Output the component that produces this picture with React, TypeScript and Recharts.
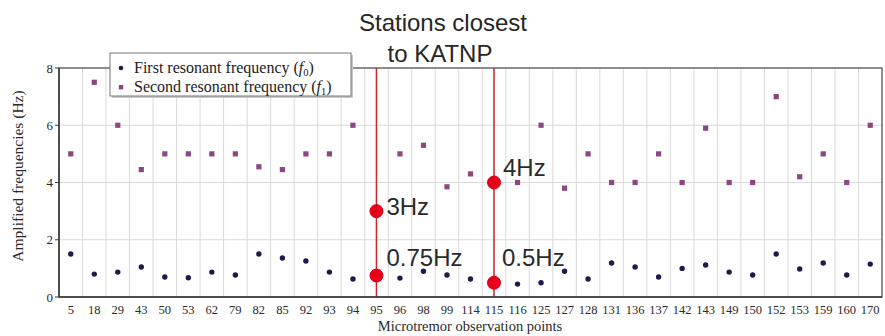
import { ComposedChart, Scatter, XAxis, YAxis, CartesianGrid, ReferenceLine, ReferenceDot, ReferenceArea } from 'recharts';

const stations = [
  '5', '18', '29', '43', '50', '53', '62', '79', '82', '85', '92', '93', '94', '95', '96', '98', '99', '114',
  '115', '116', '125', '127', '128', '131', '136', '137', '142', '143', '149', '150', '152', '153', '159', '160', '170',
];

// first resonant frequency f0 (Hz)
const firstResonant = [
  1.5, 0.8, 0.87, 1.05, 0.7, 0.67, 0.87, 0.77, 1.5, 1.36, 1.26, 0.87, 0.63, 0.75, 0.66, 0.9, 0.77, 0.63,
  0.5, 0.45, 0.5, 0.9, 0.63, 1.19, 1.05, 0.7, 1.0, 1.12, 0.87, 0.77, 1.5, 0.98, 1.19, 0.77, 1.15,
];

// second resonant frequency f1 (Hz)
const secondResonant = [
  5.0, 7.5, 6.0, 4.45, 5.0, 5.0, 5.0, 5.0, 4.55, 4.45, 5.0, 5.0, 6.0, 3.0, 5.0, 5.3, 3.85, 4.3,
  4.0, 4.0, 6.0, 3.8, 5.0, 4.0, 4.0, 5.0, 4.0, 5.9, 4.0, 4.0, 7.0, 4.2, 5.0, 4.0, 6.0,
];

const yTicks = [0, 2, 4, 6, 8];

// stations closest to KATNP and the values called out on them
const closestStations = ['95', '115'];
const markedStations = ['95', '95', '115', '115'];
const markedValues = [3, 0.75, 4, 0.5];
const markedLabels = ['3Hz', '0.75Hz', '4Hz', '0.5Hz'];

// label placement relative to each red dot
const labelOffsets = [
  [10, 4],
  [10, -10],
  [9, -7],
  [8, -17],
];

// each station sits in the middle of its own slot on a numeric axis
const slot = (station: string) => stations.indexOf(station) + 0.5;

const data = stations.map((station, i) => ({
  x: i + 0.5,
  f0: firstResonant[i],
  f1: secondResonant[i],
}));

const xTicks = stations.map((_, i) => i + 0.5);

const serif = '"Liberation Serif", "Times New Roman", serif';
const sans = '"Liberation Sans", Arial, sans-serif';

const FirstDot = (props: any) => {
  const { cx, cy } = props;
  if (cx == null || cy == null) return null;
  return <circle cx={cx} cy={cy} r={2.7} fill="#1c1c4a" />;
};

const SecondDot = (props: any) => {
  const { cx, cy } = props;
  if (cx == null || cy == null) return null;
  return <rect x={cx - 2.6} y={cy - 2.6} width={5.2} height={5.2} fill="#8c4682" />;
};

const annotation = (text: string, dx: number, dy: number) => (props: any) => {
  const vb = props.viewBox || {};
  const cx = vb.x + vb.width / 2;
  const cy = vb.y + vb.height / 2;
  return (
    <text x={cx + dx} y={cy + dy} fontFamily={sans} fontSize={24} fill="#2a2a2a">
      {text}
    </text>
  );
};

// vertical grid lines fall on the borders between station slots
const slotBorders = ({ offset }: any) =>
  Array.from({ length: stations.length + 1 }, (_, i) => offset.left + (i * offset.width) / stations.length);

export default function App() {
  return (
    <div style={{ position: 'absolute', left: 0, top: 0, width: 885, height: 336, background: '#fff' }}>
      <ComposedChart width={885} height={336} data={data} margin={{ top: 68, right: 3, bottom: 0, left: 0 }}>
        <CartesianGrid stroke="#dadada" verticalCoordinatesGenerator={slotBorders} />
        <XAxis
          dataKey="x"
          type="number"
          domain={[0, stations.length]}
          ticks={xTicks}
          interval={0}
          tickFormatter={(v: number) => stations[Math.floor(v)]}
          height={39}
          tickLine={false}
          tickMargin={2}
          axisLine={{ stroke: '#3a3a3a', strokeWidth: 1.5 }}
          tick={{ fontFamily: serif, fontSize: 12.5, fill: '#2a2a2a' }}
        />
        <YAxis
          width={59}
          domain={[0, 8]}
          ticks={yTicks}
          tickSize={4}
          tickMargin={2}
          axisLine={{ stroke: '#3a3a3a', strokeWidth: 1.5 }}
          tickLine={{ stroke: '#3a3a3a' }}
          tick={{ fontFamily: serif, fontSize: 13, fill: '#2a2a2a' }}
        />
        <ReferenceArea x1={0} x2={stations.length} y1={0} y2={8} fill="none" stroke="#6e6e6e" strokeWidth={1.5} />
        <Scatter dataKey="f1" shape={SecondDot} isAnimationActive={false} />
        <Scatter dataKey="f0" shape={FirstDot} isAnimationActive={false} />
        {closestStations.map(s => (
          <ReferenceLine key={s} x={slot(s)} stroke="#c4262b" strokeWidth={1.5} />
        ))}
        {markedValues.map((v, i) => (
          <ReferenceDot
            key={i}
            x={slot(markedStations[i])}
            y={v}
            r={6.5}
            fill="#e8001a"
            stroke="#d00018"
            label={annotation(markedLabels[i], labelOffsets[i][0], labelOffsets[i][1])}
          />
        ))}
      </ComposedChart>
      <svg width={885} height={336} style={{ position: 'absolute', left: 0, top: 0, pointerEvents: 'none' }}>
        <text x={443} y={31} textAnchor="middle" fontFamily={sans} fontSize={24} fill="#262626">Stations closest</text>
        <text x={440} y={62} textAnchor="middle" fontFamily={sans} fontSize={24} fill="#262626">to KATNP</text>
        <text
          transform="translate(23 176) rotate(-90)"
          textAnchor="middle"
          fontFamily={serif}
          fontSize={15.5}
          fill="#2a2a2a"
        >
          Amplified frequencies (Hz)
        </text>
        <text x={470} y={331} textAnchor="middle" fontFamily={serif} fontSize={14.5} fill="#2a2a2a">
          Microtremor observation points
        </text>
        <rect x={112} y={55} width={241} height={43} fill="#c8c8c8" />
        <rect x={110} y={53} width={241} height={43} fill="#fff" stroke="#777" strokeWidth={1} />
        <circle cx={121} cy={68} r={2.3} fill="#1c1c4a" />
        <text x={134} y={73} fontFamily={serif} fontSize={16} fill="#222">
          First resonant frequency (<tspan fontStyle="italic">f</tspan>
          <tspan fontSize={10.5} dy={3}>0</tspan>
          <tspan dy={-3}>)</tspan>
        </text>
        <rect x={118.8} y={85} width={4.4} height={4.4} fill="#8c4682" />
        <text x={134} y={92} fontFamily={serif} fontSize={16} fill="#222">
          Second resonant frequency (<tspan fontStyle="italic">f</tspan>
          <tspan fontSize={10.5} dy={3}>1</tspan>
          <tspan dy={-3}>)</tspan>
        </text>
      </svg>
    </div>
  );
}
